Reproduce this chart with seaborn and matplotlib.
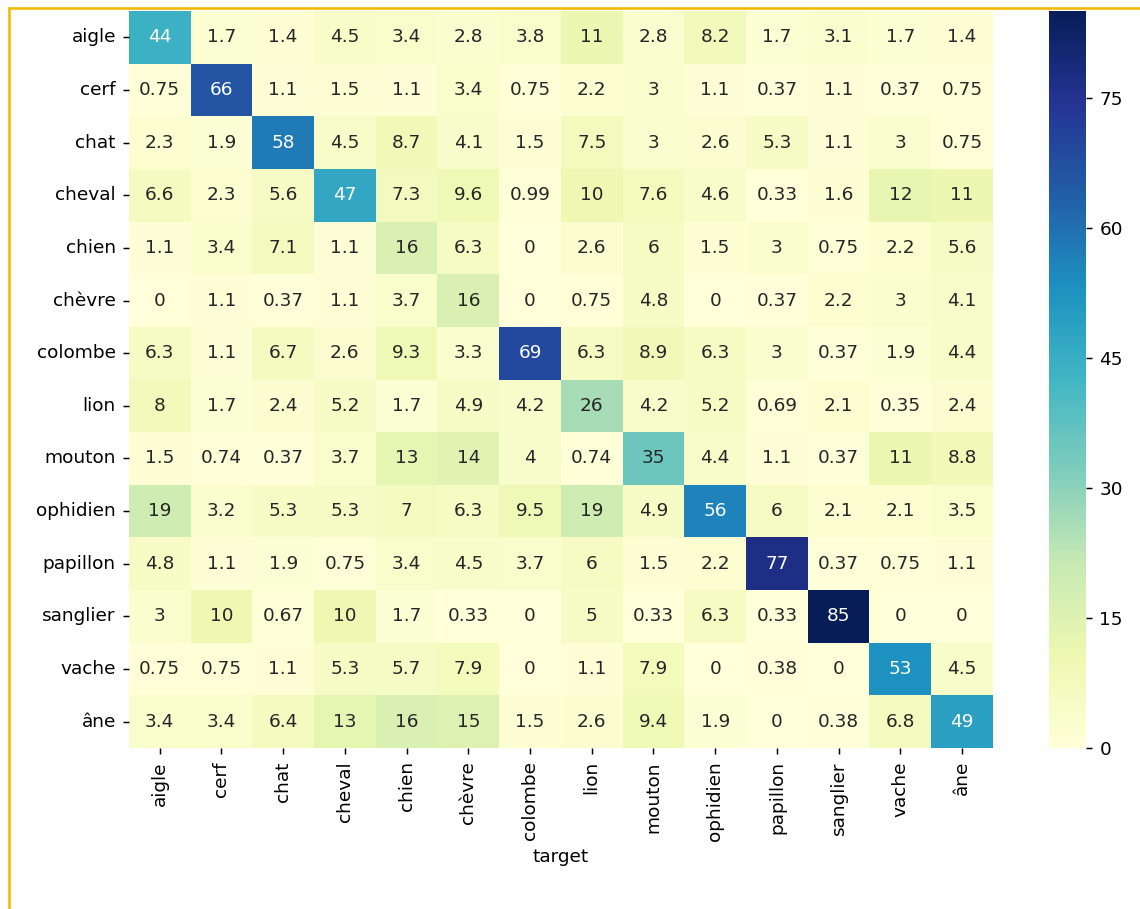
import numpy as np
import pandas as pd
import seaborn as sns
import matplotlib.pyplot as plt
from matplotlib.lines import Line2D

labels = ["aigle", "cerf", "chat", "cheval", "chien", "chèvre", "colombe",
          "lion", "mouton", "ophidien", "papillon", "sanglier", "vache", "âne"]

aigle = [44, 1.7, 1.4, 4.5, 3.4, 2.8, 3.8, 11, 2.8, 8.2, 1.7, 3.1, 1.7, 1.4]
cerf = [0.75, 66, 1.1, 1.5, 1.1, 3.4, 0.75, 2.2, 3, 1.1, 0.37, 1.1, 0.37, 0.75]
chat = [2.3, 1.9, 58, 4.5, 8.7, 4.1, 1.5, 7.5, 3, 2.6, 5.3, 1.1, 3, 0.75]
cheval = [6.6, 2.3, 5.6, 47, 7.3, 9.6, 0.99, 10, 7.6, 4.6, 0.33, 1.6, 12, 11]
chien = [1.1, 3.4, 7.1, 1.1, 16, 6.3, 0, 2.6, 6, 1.5, 3, 0.75, 2.2, 5.6]
chevre = [0, 1.1, 0.37, 1.1, 3.7, 16, 0, 0.75, 4.8, 0, 0.37, 2.2, 3, 4.1]
colombe = [6.3, 1.1, 6.7, 2.6, 9.3, 3.3, 69, 6.3, 8.9, 6.3, 3, 0.37, 1.9, 4.4]
lion = [8, 1.7, 2.4, 5.2, 1.7, 4.9, 4.2, 26, 4.2, 5.2, 0.69, 2.1, 0.35, 2.4]
mouton = [1.5, 0.74, 0.37, 3.7, 13, 14, 4, 0.74, 35, 4.4, 1.1, 0.37, 11, 8.8]
ophidien = [19, 3.2, 5.3, 5.3, 7, 6.3, 9.5, 19, 4.9, 56, 6, 2.1, 2.1, 3.5]
papillon = [4.8, 1.1, 1.9, 0.75, 3.4, 4.5, 3.7, 6, 1.5, 2.2, 77, 0.37, 0.75, 1.1]
sanglier = [3, 10, 0.67, 10, 1.7, 0.33, 0, 5, 0.33, 6.3, 0.33, 85, 0, 0]
vache = [0.75, 0.75, 1.1, 5.3, 5.7, 7.9, 0, 1.1, 7.9, 0, 0.38, 0, 53, 4.5]
ane = [3.4, 3.4, 6.4, 13, 16, 15, 1.5, 2.6, 9.4, 1.9, 0, 0.38, 6.8, 49]

cbar_ticks = [0, 15, 30, 45, 60, 75]

rows = [aigle, cerf, chat, cheval, chien, chevre, colombe,
        lion, mouton, ophidien, papillon, sanglier, vache, ane]
cm = pd.DataFrame(rows, index=labels, columns=pd.Index(labels, name="target"))

DPI = 133
fig = plt.figure(figsize=(1140 / DPI, 909 / DPI), dpi=DPI)
ax = fig.add_axes([0.113, 0.177, 0.758, 0.811])
cax = fig.add_axes([0.920, 0.177, 0.033, 0.811])

sns.heatmap(cm, annot=True, cmap="YlGnBu", ax=ax, cbar_ax=cax)
ax.set_yticklabels(labels, rotation=0)
ax.set_xticklabels(labels, rotation=90)
cax.set_yticks(cbar_ticks)

# orange frame (only top and left visible in the crop)
col = "#f5b800"
fig.add_artist(Line2D([9 / 1140, 9 / 1140], [0, 1 - 8 / 909], color=col, lw=1.4,
                      transform=fig.transFigure))
fig.add_artist(Line2D([9 / 1140, 1], [1 - 8 / 909, 1 - 8 / 909], color=col, lw=1.4,
                      transform=fig.transFigure))

fig.savefig("out.png", dpi=DPI)
